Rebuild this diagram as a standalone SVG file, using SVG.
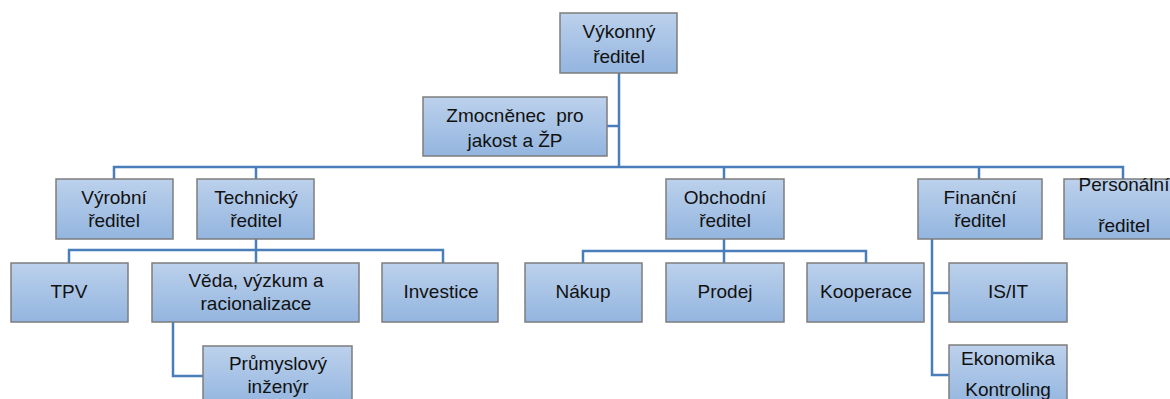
<svg xmlns="http://www.w3.org/2000/svg" width="1170" height="399" viewBox="0 0 1170 399">
  <defs>
    <linearGradient id="boxFill" x1="0" y1="0" x2="0" y2="1">
      <stop offset="0" stop-color="#bcd1ec"/>
      <stop offset="1" stop-color="#93b5df"/>
    </linearGradient>
  </defs>
  <style>
    .box { fill: url(#boxFill); stroke: #7d7d7d; stroke-width: 1.5; }
    .lbl { font-family: "Liberation Sans", Arial, sans-serif; font-size: 19px; fill: #111; text-anchor: middle; }
    .link { fill: none; stroke: #4a7ebb; stroke-width: 2.5; }
  </style>
  <rect width="1170" height="399" fill="#ffffff"/>

  <!-- connectors -->
  <g id="connectors" class="link">
    <path d="M619 73 V167"/>
    <path d="M607 126 H619"/>
    <path d="M114 179 V167 H1123 V179"/>
    <path d="M256 167 V179"/>
    <path d="M724 167 V179"/>
    <path d="M979 167 V179"/>
    <path d="M256 239 V250"/>
    <path d="M69 263 V250 H443 V263"/>
    <path d="M256 250 V263"/>
    <path d="M173 322 V376 H203"/>
    <path d="M724 239 V251"/>
    <path d="M583 263 V251 H866 V263"/>
    <path d="M724 251 V263"/>
    <path d="M932 239 V375 H949"/>
    <path d="M932 293 H949"/>
  </g>

  <g id="vykonny">
    <rect class="box" x="560" y="13" width="117" height="60"/>
    <text class="lbl" x="619" y="38">Výkonný</text>
    <text class="lbl" x="619" y="63">ředitel</text>
  </g>
  <g id="zmocnenec">
    <rect class="box" x="423" y="97" width="184" height="59"/>
    <text class="lbl" x="515" y="122" xml:space="preserve">Zmocněnec  pro</text>
    <text class="lbl" x="515" y="147">jakost a ŽP</text>
  </g>
  <g id="vyrobni">
    <rect class="box" x="56" y="179" width="117" height="60"/>
    <text class="lbl" x="114" y="204">Výrobní</text>
    <text class="lbl" x="114" y="227">ředitel</text>
  </g>
  <g id="technicky">
    <rect class="box" x="197" y="179" width="117" height="60"/>
    <text class="lbl" x="256" y="204">Technický</text>
    <text class="lbl" x="256" y="227">ředitel</text>
  </g>
  <g id="obchodni">
    <rect class="box" x="666" y="179" width="118" height="60"/>
    <text class="lbl" x="725" y="204">Obchodní</text>
    <text class="lbl" x="725" y="227">ředitel</text>
  </g>
  <g id="financni">
    <rect class="box" x="918" y="179" width="124" height="60"/>
    <text class="lbl" x="980" y="204">Finanční</text>
    <text class="lbl" x="980" y="227">ředitel</text>
  </g>
  <g id="personalni">
    <rect class="box" x="1064" y="179" width="120" height="60"/>
    <text class="lbl" x="1124" y="191">Personální</text>
    <text class="lbl" x="1124" y="232">ředitel</text>
  </g>
  <g id="tpv">
    <rect class="box" x="11" y="263" width="117" height="59"/>
    <text class="lbl" x="69" y="298">TPV</text>
  </g>
  <g id="veda">
    <rect class="box" x="152" y="263" width="207" height="59"/>
    <text class="lbl" x="256" y="287">Věda, výzkum a</text>
    <text class="lbl" x="256" y="310">racionalizace</text>
  </g>
  <g id="investice">
    <rect class="box" x="382" y="263" width="116" height="59"/>
    <text class="lbl" x="441" y="298">Investice</text>
  </g>
  <g id="prumyslovy">
    <rect class="box" x="203" y="346" width="149" height="60"/>
    <text class="lbl" x="278" y="370">Průmyslový</text>
    <text class="lbl" x="278" y="393">inženýr</text>
  </g>
  <g id="nakup">
    <rect class="box" x="525" y="263" width="117" height="59"/>
    <text class="lbl" x="583" y="298">Nákup</text>
  </g>
  <g id="prodej">
    <rect class="box" x="666" y="263" width="118" height="59"/>
    <text class="lbl" x="725" y="298">Prodej</text>
  </g>
  <g id="kooperace">
    <rect class="box" x="807" y="263" width="117" height="59"/>
    <text class="lbl" x="866" y="298">Kooperace</text>
  </g>
  <g id="isit">
    <rect class="box" x="949" y="263" width="118" height="59"/>
    <text class="lbl" x="1008" y="298">IS/IT</text>
  </g>
  <g id="ekonomika">
    <rect class="box" x="949" y="345" width="118" height="62"/>
    <text class="lbl" x="1008" y="365">Ekonomika</text>
    <text class="lbl" x="1008" y="396">Kontroling</text>
  </g>
</svg>
